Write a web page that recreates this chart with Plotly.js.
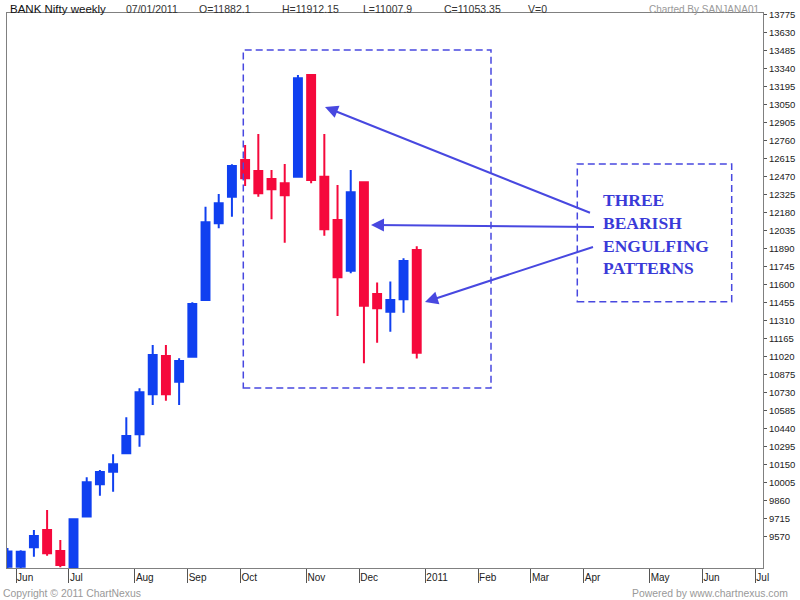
<!DOCTYPE html>
<html>
<head>
<meta charset="utf-8">
<script src="https://cdn.plot.ly/plotly-3.0.1.min.js"></script>
<style>html,body{margin:0;padding:0;background:#fff;}#chart{width:800px;height:600px;}</style>
</head>
<body>
<div id="chart"></div>
<script>
// Weekly candles (week ending dates)
const weeks = ["2010-06-04","2010-06-11","2010-06-18","2010-06-25","2010-07-02","2010-07-09","2010-07-16","2010-07-23","2010-07-30",
  "2010-08-06","2010-08-13","2010-08-20","2010-08-27","2010-09-03","2010-09-10","2010-09-17","2010-09-24","2010-10-01",
  "2010-10-08","2010-10-15","2010-10-22","2010-10-29","2010-11-05","2010-11-12","2010-11-19","2010-11-26","2010-12-03",
  "2010-12-10","2010-12-17","2010-12-24","2010-12-31","2011-01-07"];
const openV  = [9330, 9330, 9487, 9626, 9457, 9300, 9734, 9995, 10096, 10244, 10397, 10720, 11028, 10821, 11022, 11479,
  12097, 12311, 12607, 12518, 12454, 12419, 12472, 13292, 12472, 12124, 11715, 12427, 11527, 11385, 11485, 11882.1];
const highV  = [9481, 9462, 9626, 9787, 9546, 9718, 10051, 10110, 10236, 10534, 10768, 11117, 11117, 11009, 11461, 12231,
  12333, 12572, 12728, 12816, 12526, 12575, 13292, 13300, 12816, 12405, 12526, 12435, 11619, 11627, 11815, 11912.15];
const lowV   = [9300, 9300, 9411, 9419, 9326, 9280, 9726, 9903, 9935, 10240, 10297, 10633, 10668, 10633, 11015, 11470,
  12057, 12150, 12397, 12311, 12129, 11941, 12465, 12419, 11997, 11350, 11694, 10969, 11135, 11224, 11377, 11007.9];
const closeV = [9452, 9450, 9578, 9438, 9344, 9712, 10011, 10094, 10156, 10384, 10736, 11036, 10720, 10988, 11447, 12105,
  12258, 12559, 12459, 12339, 12371, 12322, 13265, 12446, 12049, 11662, 12347, 11433, 11412, 11479, 11793, 11053.35];

// Y-axis tick labels (as printed on the chart)
const yTicks = [9570, 9715, 9860, 10005, 10150, 10295, 10440, 10585, 10730, 10875, 11020, 11165, 11310, 11455, 11600,
  11745, 11890, 12035, 12180, 12325, 12470, 12615, 12760, 12905, 13050, 13195, 13340, 13485, 13630, 13775];

// Month tick labels and the week index at which each month starts
const monthLabels = ["Jun","Jul","Aug","Sep","Oct","Nov","Dec","2011","Feb","Mar","Apr","May","Jun","Jul"];
const monthStartWeek = [0, 4, 9, 13, 17, 22, 26, 31, 35, 39, 43, 48, 52, 56];

const headerTitle = "BANK Nifty weekly";
const headerDate = "07/01/2011";
const headerO = "O=11882.1", headerH = "H=11912.15", headerL = "L=11007.9", headerC = "C=11053.35", headerV = "V=0";
const annotationText = "THREE<br>BEARISH<br>ENGULFING<br>PATTERNS";

const BLUE = "#1040f0", RED = "#f5093c", ANN = "#4848e0";
const L = 7, T = 13, W = 756, H = 555;
const px = x => (x - L) / W;
const py = y => (T + H - y) / H;

const xIdx = weeks.map((_, i) => i);

const trace = {
  type: "candlestick",
  x: xIdx, open: openV, high: highV, low: lowV, close: closeV,
  increasing: {line: {color: BLUE, width: 2}, fillcolor: BLUE},
  decreasing: {line: {color: RED, width: 2}, fillcolor: RED},
  whiskerwidth: 0,
  hoverinfo: "skip",
  showlegend: false
};

const hdrFont = {family: "Liberation Sans, Arial, sans-serif", size: 10.5, color: "#333"};
function hdr(text, x, opts) {
  return Object.assign({text, xref: "paper", yref: "paper", x: px(x), y: py(9), xanchor: "left", yanchor: "middle",
    showarrow: false, font: hdrFont, borderpad: 0}, opts || {});
}
function arrow(tipX, tipY, tailX, tailY) {
  return {text: " ", xref: "paper", yref: "paper", x: px(tipX), y: py(tipY), ax: tailX - tipX, ay: tailY - tipY,
    showarrow: true, arrowhead: 2, arrowsize: 1.3, arrowwidth: 2, arrowcolor: ANN, standoff: 0};
}

const layout = {
  width: 800, height: 600,
  margin: {l: L, r: 800 - L - W, t: T, b: 600 - T - H, pad: 0},
  paper_bgcolor: "#ffffff", plot_bgcolor: "#ffffff",
  boxgap: 0.4, boxgroupgap: 0,
  showlegend: false,
  xaxis: {
    range: [-0.038, 57.23], showgrid: false, zeroline: false,
    showline: true, linecolor: "#808080", linewidth: 1, mirror: true,
    tickmode: "array", tickvals: monthStartWeek.map(w => w + 0.65), ticktext: monthLabels,
    ticks: "outside", ticklen: 14, tickcolor: "#555", tickwidth: 1,
    ticklabelposition: "outside right",
    tickfont: {family: "Liberation Sans, Arial, sans-serif", size: 10, color: "#222"},
    rangeslider: {visible: false}, fixedrange: true
  },
  yaxis: {
    side: "right", range: [9320, 13791], showgrid: false, zeroline: false,
    showline: true, linecolor: "#808080", linewidth: 1, mirror: true,
    tickmode: "array", tickvals: yTicks, ticktext: yTicks.map(String),
    ticks: "outside", ticklen: 3, tickcolor: "#555",
    tickfont: {family: "Liberation Sans, Arial, sans-serif", size: 9.5, color: "#222"},
    fixedrange: true
  },
  shapes: [
    {type: "rect", xref: "paper", yref: "paper", x0: px(243.3), x1: px(491), y0: py(388), y1: py(50),
      line: {color: ANN, width: 1.5, dash: "7px,4px"}},
    {type: "rect", xref: "paper", yref: "paper", x0: px(577.3), x1: px(731.7), y0: py(301.7), y1: py(164),
      line: {color: ANN, width: 1.5, dash: "7px,4px"}}
  ],
  annotations: [
    hdr(headerTitle, 8.5, {font: {family: "Liberation Sans, Arial, sans-serif", size: 11.5, color: "#111"}}),
    hdr(headerDate, 125),
    hdr(headerO, 198.3),
    hdr(headerH, 281),
    hdr(headerL, 362.3),
    hdr(headerC, 443.3),
    hdr(headerV, 526.7),
    hdr("Charted By SANJANA01", 760, {xanchor: "right", font: {family: "Liberation Sans, Arial, sans-serif", size: 10, color: "#999"}}),
    hdr("Copyright © 2011 ChartNexus", 1.7, {y: py(593), font: {family: "Liberation Sans, Arial, sans-serif", size: 10.4, color: "#999"}}),
    hdr("Powered by www.chartnexus.com", 788.5, {y: py(593), xanchor: "right", font: {family: "Liberation Sans, Arial, sans-serif", size: 10.4, color: "#999"}}),
    arrow(325, 107, 593, 214),
    arrow(371, 225, 597, 227),
    arrow(425, 302, 596, 246),
    {text: annotationText, xref: "paper", yref: "paper", x: px(602), y: py(233.5), xanchor: "left", yanchor: "middle",
      align: "left", showarrow: false, borderpad: 0,
      font: {family: "Liberation Serif, Times New Roman, serif", size: 17.5, color: "#3a3ad8", weight: "bold"}}
  ]
};

Plotly.newPlot("chart", [trace], layout, {displayModeBar: false, staticPlot: true});
</script>
</body>
</html>
